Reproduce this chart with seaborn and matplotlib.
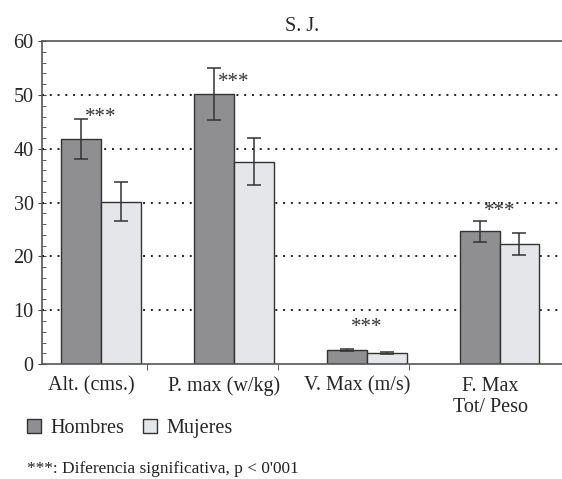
import pandas as pd
import matplotlib.pyplot as plt
import seaborn as sns
from matplotlib.ticker import MultipleLocator, FixedLocator
from matplotlib.patches import Patch

# values
categories = ['Alt. (cms.)', 'P. max (w/kg)', 'V. Max (m/s)', 'F. Max\nTot/ Peso']
groups = ['Hombres', 'Mujeres']
hombres = [41.8, 50.2, 2.55, 24.7]
mujeres = [30.2, 37.6, 2.1, 22.3]
hombres_err = [3.7, 4.9, 0.2, 1.95]
mujeres_err = [3.6, 4.4, 0.2, 2.05]
star_y = [45.9, 52.3, 6.8, 28.4]

colors = {'Hombres': '#8e8f93', 'Mujeres': '#e3e6ea'}

df = pd.DataFrame({
    'cat': categories * 2,
    'sexo': ['Hombres'] * 4 + ['Mujeres'] * 4,
    'valor': hombres + mujeres,
})

sns.set_style('white')
plt.rcParams['font.family'] = ['Liberation Serif', 'DejaVu Serif']

fig = plt.figure(figsize=(5.62, 4.79), dpi=100)
ax = fig.add_axes([0.0747, 0.240, 0.9253, 0.674])

sns.barplot(data=df, x='cat', y='valor', hue='sexo', order=categories,
            hue_order=groups, palette=colors, width=0.6, errorbar=None,
            edgecolor='#333333', linewidth=1.0, legend=False, ax=ax, zorder=2)

# error bars + significance marks
for i in range(len(categories)):
    ax.errorbar(i - 0.15, hombres[i], yerr=hombres_err[i], fmt='none',
                ecolor='#333333', elinewidth=1.1, capsize=5, capthick=1.1, zorder=3)
    ax.errorbar(i + 0.15, mujeres[i], yerr=mujeres_err[i], fmt='none',
                ecolor='#333333', elinewidth=1.1, capsize=5, capthick=1.1, zorder=3)
    ax.text(i, star_y[i], '***', ha='center', va='center', fontsize=15,
            color='#333333', zorder=4)

ax.set_ylim(0, 60)
ax.set_xlim(-0.444, 3.47)
ax.yaxis.set_major_locator(MultipleLocator(10))
ax.yaxis.set_minor_locator(MultipleLocator(2))
for y in range(10, 60, 10):
    ax.axhline(y, color='#222222', linestyle=(0, (1.0, 3.0)), linewidth=1.4, zorder=1)

ax.set_xticks([i - 0.07 for i in range(len(categories))])
ax.set_xticklabels(categories, fontsize=14.5, linespacing=1.15)
ax.xaxis.set_minor_locator(FixedLocator([0.35, 1.33, 2.32]))
ax.tick_params(axis='x', which='major', length=0, pad=9)
ax.tick_params(axis='x', which='minor', length=4, direction='out', color='#444444', bottom=True)
ax.tick_params(axis='y', which='major', length=6, direction='inout', labelsize=14.5,
               color='#444444', left=True, pad=3)
ax.tick_params(axis='y', which='minor', length=3, direction='in', color='#444444', left=True)

ax.set_xlabel('')
ax.set_ylabel('')
for side in ['left', 'bottom', 'top']:
    ax.spines[side].set_color('#555555')
    ax.spines[side].set_linewidth(1.2)
ax.spines['right'].set_visible(False)

ax.set_title('S. J.', fontsize=14.5, pad=7)

handles = [Patch(facecolor=colors[g], edgecolor='#333333', label=g) for g in groups]
fig.legend(handles=handles, loc='center left', bbox_to_anchor=(0.015, 0.106), ncol=2,
           frameon=False, fontsize=14.5, handlelength=0.7, handleheight=0.7,
           handletextpad=0.5, columnspacing=0.9)

fig.text(0.048, 0.012, "***: Diferencia significativa, p < 0'001", fontsize=12.4, color='#222222')

fig.savefig('out.png', dpi=100)
